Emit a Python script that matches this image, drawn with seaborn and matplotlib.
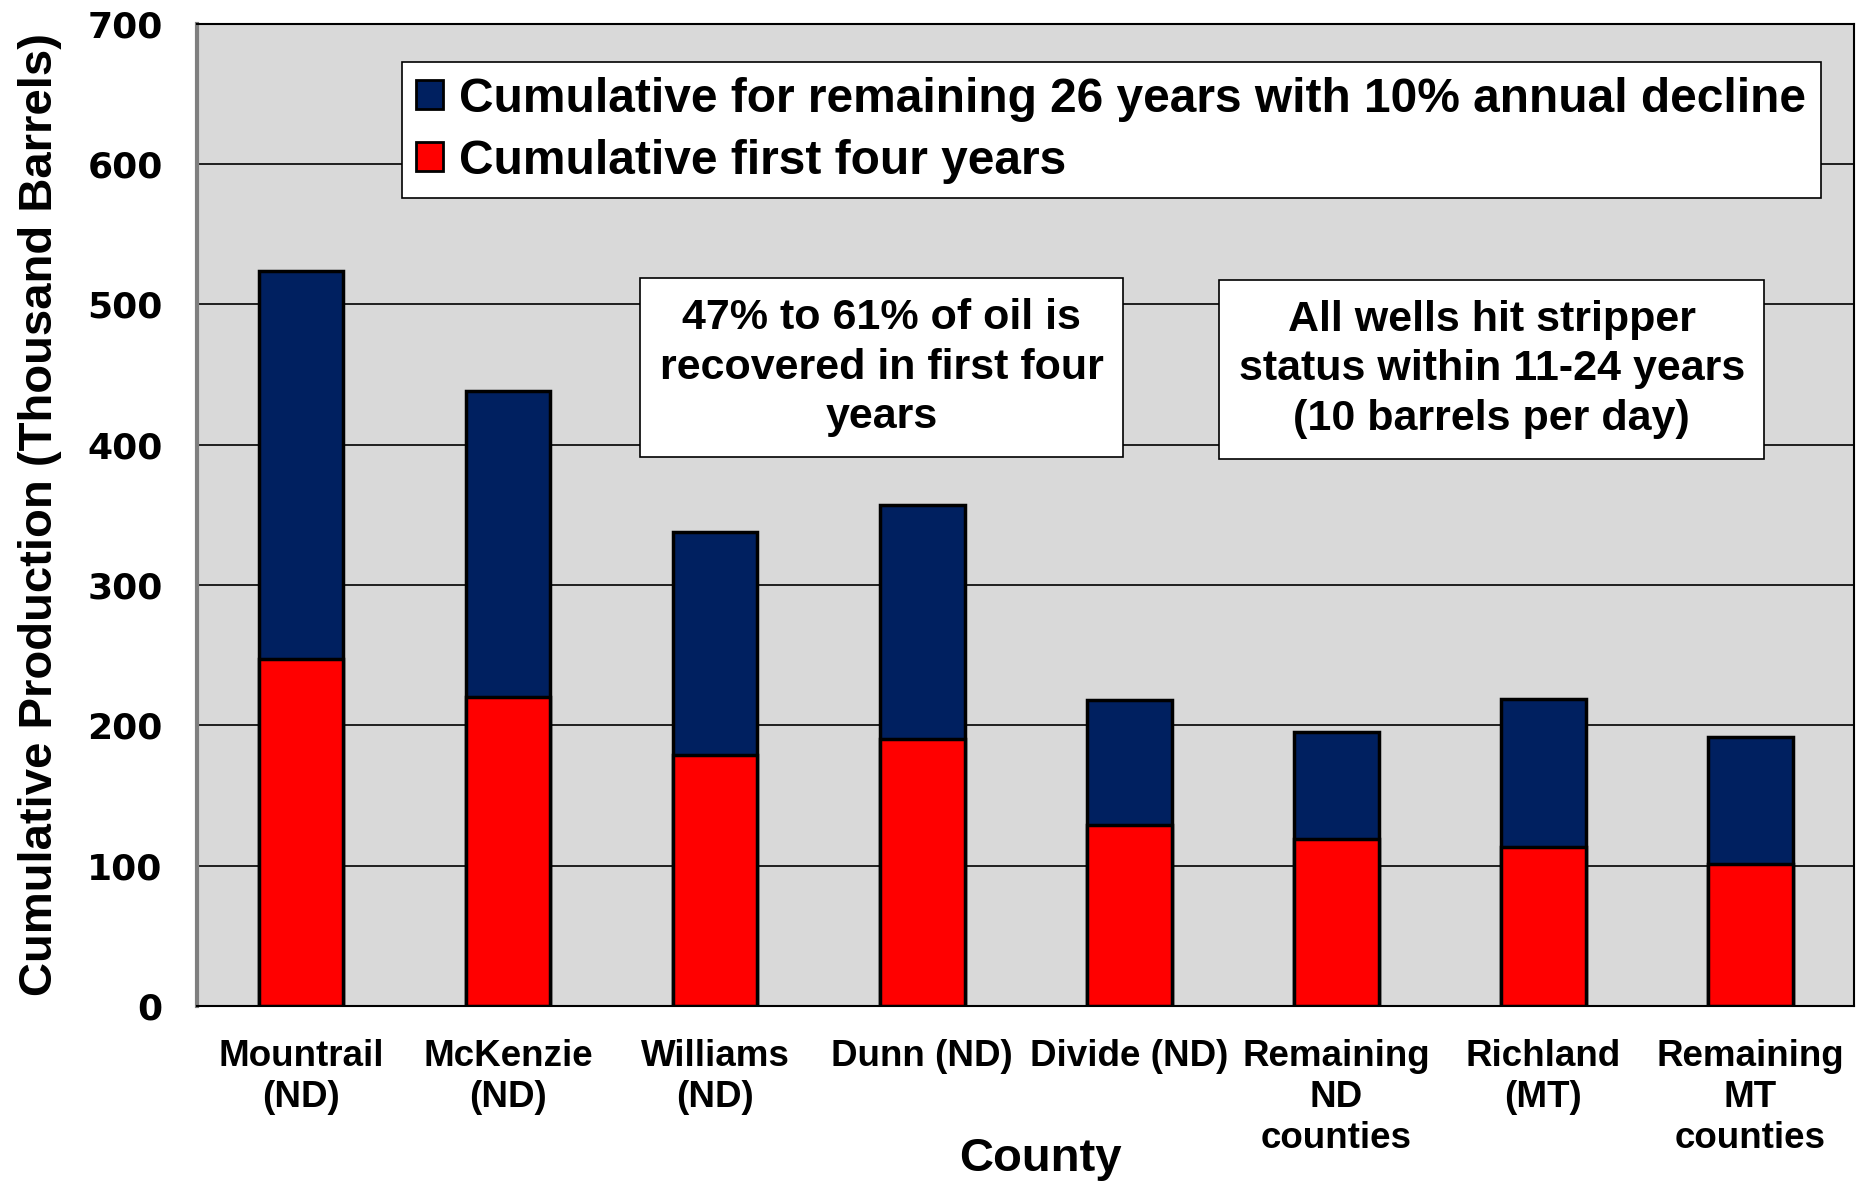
import pandas as pd
import matplotlib.pyplot as plt
import seaborn as sns
from matplotlib.patches import Patch
from matplotlib.ticker import MultipleLocator, FixedLocator

# Values (thousand barrels)
counties = ["Mountrail\n(ND)", "McKenzie\n(ND)", "Williams\n(ND)", "Dunn (ND)",
            "Divide (ND)", "Remaining\nND\ncounties", "Richland\n(MT)", "Remaining\nMT\ncounties"]
first_four = [247, 220, 179, 190, 129, 119, 113, 101]
remaining_26 = [277, 218, 159, 167, 89, 76, 106, 91]

navy = "#002060"
red = "#ff0000"

df = pd.DataFrame({"County": counties, "First": first_four, "Remaining": remaining_26})
df["Total"] = df["First"] + df["Remaining"]

sns.set_theme(style="white")
plt.rcParams["font.family"] = ["Liberation Sans", "DejaVu Sans"]
plt.rcParams["font.weight"] = "bold"
plt.rcParams["text.color"] = "black"
plt.rcParams["axes.labelcolor"] = "black"
plt.rcParams["xtick.labelcolor"] = "black"
plt.rcParams["ytick.labelcolor"] = "black"

fig = plt.figure(figsize=(18.63, 11.87), dpi=100)
ax = fig.add_axes([0.106, 0.1525, 0.889, 0.8275])
ax.set_facecolor("#d9d9d9")

# stacked bars: totals underneath, first four years on top
sns.barplot(data=df, x="County", y="Total", color=navy, saturation=1, width=0.41,
            edgecolor="black", linewidth=2.5, ax=ax, zorder=3)
sns.barplot(data=df, x="County", y="First", color=red, saturation=1, width=0.41,
            edgecolor="black", linewidth=2.5, ax=ax, zorder=3)

ax.set_xlim(-0.5, len(counties) - 0.5)
ax.set_ylim(0, 700)
ax.yaxis.set_major_locator(MultipleLocator(100))
ax.grid(axis="y", color="black", linewidth=1.2, zorder=1)
ax.set_axisbelow(True)

for s in ["top", "right", "left", "bottom"]:
    ax.spines[s].set_color("black")
    ax.spines[s].set_linewidth(1.5)
ax.spines["left"].set_color("#7f7f7f")
ax.spines["left"].set_linewidth(3)

ax.tick_params(axis="y", direction="out", length=8, width=1.5, color="#7f7f7f",
               labelsize=26, pad=17, labelcolor="black")
for lbl in ax.get_yticklabels():
    lbl.set_fontfamily(["DejaVu Sans"])
    lbl.set_fontweight("bold")

ax.xaxis.set_minor_locator(FixedLocator([i - 0.5 for i in range(len(counties) + 1)]))
ax.tick_params(axis="x", which="major", length=0, labelsize=26.5, pad=24, labelcolor="black")
ax.tick_params(axis="x", which="minor", direction="out", length=8, width=1.5, color="#7f7f7f")
for lbl in ax.get_xticklabels():
    lbl.set_fontweight("bold")
    lbl.set_linespacing(1.22)

ax.set_xlabel("County", fontsize=34, fontweight="bold", labelpad=0, color="black")
ax.xaxis.set_label_coords(0.509, -0.133)
ax.set_ylabel("Cumulative Production (Thousand Barrels)", fontsize=34, fontweight="bold",
              family=["Liberation Sans Narrow", "Liberation Sans"], labelpad=18, color="black")

handles = [Patch(facecolor=navy, edgecolor="black", linewidth=2),
           Patch(facecolor=red, edgecolor="black", linewidth=2)]
leg = ax.legend(handles, ["Cumulative for remaining 26 years with 10% annual decline",
                          "Cumulative first four years"],
                loc="upper left", bbox_to_anchor=(0.109, 0.985), fontsize=34.5,
                frameon=True, fancybox=False, framealpha=1, edgecolor="black",
                handlelength=0.55, handleheight=0.55, handletextpad=0.35,
                labelspacing=0.35, borderpad=0.3)
leg.get_frame().set_linewidth(1.2)
for t in leg.get_texts():
    t.set_fontweight("bold")
    t.set_color("black")

box = dict(boxstyle="square,pad=0.45", facecolor="white", edgecolor="black", linewidth=1.2)
ax.text(0.413, 0.650, "47% to 61% of oil is\nrecovered in first four\nyears",
        transform=ax.transAxes, ha="center", va="center", fontsize=31, color="black",
        fontweight="bold", linespacing=1.32, bbox=box, zorder=5)
ax.text(0.7815, 0.648, "All wells hit stripper\nstatus within 11-24 years\n(10 barrels per day)",
        transform=ax.transAxes, ha="center", va="center", fontsize=31, color="black",
        fontweight="bold", linespacing=1.32, bbox=box, zorder=5)

fig.savefig("out.png", dpi=100)
